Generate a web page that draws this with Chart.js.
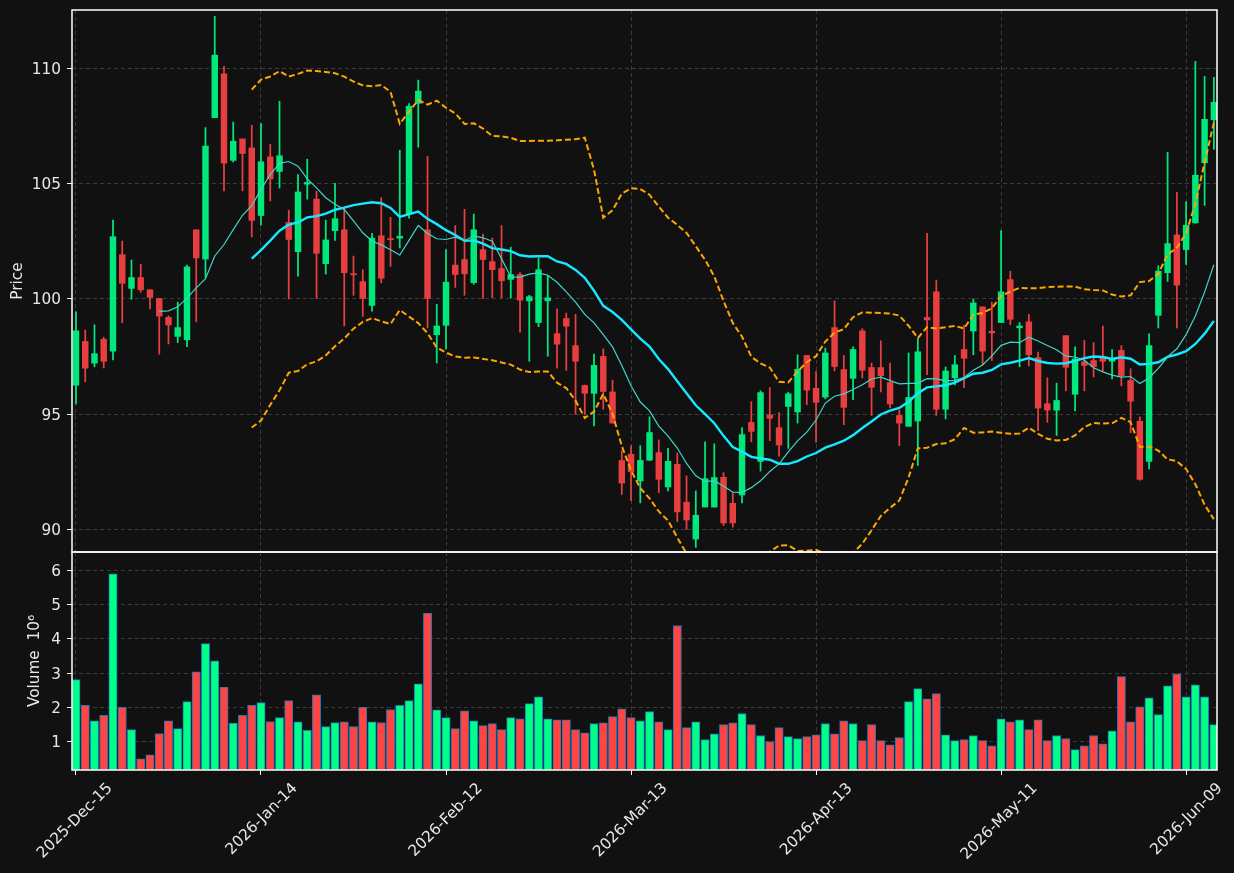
<!DOCTYPE html>
<html>
<head>
<meta charset="utf-8">
<script src="https://cdn.jsdelivr.net/npm/chart.js@4.4.1/dist/chart.umd.min.js"></script>
<style>
html,body{margin:0;padding:0;background:#111111;}
#wrap{position:relative;width:1234px;height:873px;background:#111111;}
canvas{position:absolute;left:0;top:0;}
</style>
</head>
<body>
<div id="wrap">
<canvas id="price" width="1234" height="873"></canvas>
<canvas id="vol" width="1234" height="873"></canvas>
</div>
<script>
// ---- data ----
const tickIndex  = [0, 20, 40, 60, 80, 100, 120];
const tickLabels = ['2025-Dec-15','2026-Jan-14','2026-Feb-12','2026-Mar-13','2026-Apr-13','2026-May-11','2026-Jun-09'];
const priceTicks  = [90, 95, 100, 105, 110];
const volumeTicks = [1, 2, 3, 4, 5, 6];

const openPrices = [
 96.26,98.16,97.22,98.25,97.74,101.92,100.46,100.93,100.40,100.02,
 99.20,98.38,98.23,103.00,101.73,107.86,109.76,106.01,106.94,106.55,
 103.62,106.16,105.53,103.32,102.05,104.98,104.33,101.53,102.96,103.00,
 101.10,100.75,99.72,102.74,102.62,102.64,103.68,108.48,103.00,98.45,
 98.86,101.47,101.71,100.71,102.14,101.62,101.32,100.85,101.06,99.92,
 98.98,99.92,98.50,99.15,97.98,96.25,95.91,97.51,95.97,93.00,
 93.27,92.11,93.01,93.34,91.85,92.83,91.19,89.59,90.98,90.98,
 92.27,91.14,91.50,94.65,92.96,94.97,94.42,95.34,95.10,97.55,
 96.13,95.75,98.76,96.94,96.56,98.62,97.03,97.03,96.38,94.95,
 94.48,94.71,99.20,100.31,95.22,96.58,97.81,98.61,99.66,98.60,
 98.98,100.84,98.75,99.01,97.46,95.46,95.18,98.41,95.87,97.27,
 97.33,97.48,97.30,97.77,96.47,94.70,92.96,99.29,101.14,102.78,
 102.14,103.30,105.91,107.77];
const highPrices = [
 99.44,98.65,98.88,98.34,103.42,102.51,101.69,101.51,100.40,100.02,
 99.27,99.86,101.47,103.00,107.43,112.26,110.09,107.67,106.94,107.53,
 107.60,106.70,108.57,103.85,105.39,106.06,104.67,103.42,105.02,103.98,
 101.86,101.27,102.85,104.39,103.54,106.45,108.47,109.49,106.19,99.77,
 102.14,103.18,103.89,103.68,102.81,102.64,103.18,102.25,101.14,100.16,
 101.77,100.99,99.57,99.39,99.33,96.27,97.61,97.84,96.48,93.42,
 93.64,93.64,94.89,93.89,93.53,93.32,92.33,91.68,93.81,93.72,
 92.47,91.61,94.42,95.55,96.02,96.16,95.07,95.96,97.58,97.55,
 96.85,97.87,99.92,97.55,97.93,98.71,97.22,98.19,97.22,95.18,
 97.66,98.29,102.85,100.82,97.05,97.55,98.86,100.00,99.66,99.86,
 102.97,101.20,98.98,99.33,97.70,96.58,96.35,98.41,97.93,98.20,
 98.11,98.83,97.81,97.98,96.98,94.89,98.49,101.44,106.36,104.63,
 104.22,110.30,109.65,109.61];
const lowPrices = [
 95.45,96.41,97.06,97.01,97.36,98.97,99.99,100.29,99.57,97.61,
 98.05,98.11,97.93,99.02,100.94,107.86,104.69,105.94,104.69,102.69,
 103.20,104.25,104.81,100.00,100.99,104.33,100.02,101.08,102.54,98.83,
 100.16,99.25,99.47,100.70,101.42,102.21,103.50,106.58,98.74,97.22,
 97.84,100.50,100.16,100.64,100.02,100.06,100.04,100.04,98.56,97.30,
 98.80,97.52,97.00,96.90,95.00,95.01,94.50,95.22,94.62,91.53,
 91.26,91.16,93.00,91.60,91.68,90.35,90.00,89.23,90.98,90.98,
 90.18,90.11,91.16,93.81,92.54,93.86,93.19,93.52,94.62,95.42,
 93.79,95.67,96.88,94.55,95.63,96.58,94.95,95.97,95.28,93.64,
 94.48,92.78,96.72,94.95,94.80,96.28,96.16,97.58,97.15,97.33,
 98.98,98.89,97.06,97.10,94.29,94.65,94.08,96.02,95.15,96.02,
 96.62,96.88,96.53,96.23,94.20,92.14,92.63,98.74,100.76,98.74,
 101.50,103.28,104.06,106.49];
const closePrices = [
 98.62,97.00,97.63,97.30,102.70,100.68,100.93,100.40,100.07,99.26,
 98.87,98.76,101.39,101.78,106.63,110.57,105.89,106.84,106.31,103.41,
 105.95,105.21,106.21,102.58,104.64,105.05,101.98,102.56,103.48,101.14,
 101.05,100.02,102.64,100.90,102.57,102.72,108.36,109.01,100.02,98.83,
 100.73,101.06,101.09,103.00,101.71,101.27,100.79,101.06,99.95,100.10,
 101.27,100.05,98.04,98.82,97.30,95.91,97.12,95.99,94.62,92.02,
 92.51,93.00,94.21,92.18,92.96,90.77,90.42,90.62,92.21,92.26,
 90.29,90.29,94.12,94.26,95.94,94.83,93.67,95.89,96.95,96.05,
 95.52,97.66,97.07,95.30,97.81,96.91,96.17,96.68,95.45,94.62,
 95.73,97.71,99.09,95.22,96.88,97.15,97.43,99.83,97.74,98.53,
 100.31,99.12,98.83,97.58,95.27,95.18,95.60,97.04,97.40,97.12,
 97.07,97.30,97.43,96.68,95.57,92.18,97.98,101.21,102.40,100.60,
 103.20,105.37,107.79,108.53];
// volume in millions
const volumes = [
 2.81,2.06,1.61,1.77,5.90,2.00,1.35,0.50,0.62,1.24,
 1.61,1.38,2.17,3.04,3.86,3.36,2.59,1.54,1.77,2.06,
 2.14,1.59,1.70,2.20,1.58,1.33,2.37,1.44,1.56,1.58,
 1.44,2.00,1.58,1.56,1.94,2.06,2.20,2.69,4.75,1.93,
 1.70,1.38,1.90,1.61,1.47,1.53,1.35,1.70,1.67,2.11,
 2.31,1.67,1.64,1.64,1.35,1.26,1.53,1.55,1.73,1.96,
 1.70,1.61,1.88,1.58,1.35,4.39,1.41,1.58,1.06,1.23,
 1.50,1.55,1.82,1.50,1.18,1.00,1.41,1.15,1.09,1.15,
 1.20,1.53,1.23,1.61,1.53,1.03,1.50,1.03,0.91,1.12,
 2.17,2.55,2.25,2.40,1.20,1.03,1.06,1.18,1.03,0.88,
 1.67,1.58,1.64,1.35,1.64,1.03,1.18,1.09,0.77,0.88,
 1.18,0.94,1.32,2.90,1.58,2.02,2.28,1.79,2.63,2.98,
 2.31,2.66,2.31,1.50];

// ---- indicators derived from the close series ----
function rollingMean(n){
  return closePrices.map((_, i) => {
    if (i < n - 1) return null;
    const w = closePrices.slice(i - n + 1, i + 1);
    return w.reduce((a, b) => a + b, 0) / n;
  });
}
function rollingStd(n){
  return closePrices.map((_, i) => {
    if (i < n - 1) return null;
    const w = closePrices.slice(i - n + 1, i + 1);
    const m = w.reduce((a, b) => a + b, 0) / n;
    return Math.sqrt(w.reduce((a, b) => a + (b - m) * (b - m), 0) / n);
  });
}
const ma10 = rollingMean(10);
const ma20 = rollingMean(20);
const sd20 = rollingStd(20);
const bbUpper = ma20.map((m, i) => m === null ? null : m + 2 * sd20[i]);
const bbLower = ma20.map((m, i) => m === null ? null : m - 2 * sd20[i]);
const toPts = arr => arr.map((v, i) => ({x: i, y: v})).filter(p => p.y !== null);

// ---- styles ----
const UP_C = '#02e77c', DN_C = '#e73f3f';
const UP_V = '#00ff88', DN_V = '#ff4444';
const GRID = '#3a3a3a';
const TXT = '#e8e8e8';
const FONT = {family: "'DejaVu Sans', 'Liberation Sans', sans-serif", size: 15.3};
const X_MIN = -0.43, X_MAX = 123.34;

const isUp = closePrices.map((c, i) => c >= openPrices[i]);
const candleColors = isUp.map(u => u ? UP_C : DN_C);
const volColors = isUp.map(u => u ? UP_V : DN_V);

const framePlugin = {
  id: 'frame',
  afterDraw(c) {
    const {ctx, chartArea: a} = c;
    ctx.save();
    ctx.strokeStyle = '#ffffff';
    ctx.lineWidth = 1.5;
    ctx.strokeRect(a.left, a.top, a.right - a.left, a.bottom - a.top);
    ctx.restore();
  }
};

function xScale(showLabels) {
  return {
    type: 'linear', min: X_MIN, max: X_MAX, offset: false,
    afterBuildTicks(s) { s.ticks = tickIndex.map(v => ({value: v})); },
    afterFit(s) { s.height = showLabels ? 103 : 0; s.paddingLeft = 0; s.paddingRight = 0; },
    ticks: showLabels ? {
      display: true, color: TXT, font: FONT, autoSkip: false,
      maxRotation: 45, minRotation: 45, labelOffset: 34, padding: 4.5,
      callback: v => { const k = tickIndex.indexOf(v); return k >= 0 ? tickLabels[k] : ''; }
    } : {display: false},
    grid: {color: GRID, lineWidth: 1, offset: false, drawTicks: showLabels,
           tickColor: '#ffffff', tickLength: 5, tickWidth: 1},
    border: {display: false, dash: [4, 3]}
  };
}
function yScale(min, max, ticksArr, title, titlePad) {
  return {
    min: min, max: max,
    afterBuildTicks(s) { s.ticks = ticksArr.map(v => ({value: v})); },
    afterFit(s) { s.width = 72; s.paddingTop = 0; s.paddingBottom = 0; },
    ticks: {color: TXT, font: FONT, padding: 6, labelOffset: 1.5},
    grid: {color: GRID, lineWidth: 1, tickColor: '#ffffff', tickLength: 5, tickWidth: 1},
    border: {display: false, dash: [4, 3]},
    title: {display: true, text: title, color: TXT, font: FONT, padding: {top: titlePad, bottom: 0}}
  };
}

// ---- price panel ----
new Chart(document.getElementById('price'), {
  type: 'bar',
  data: {
    datasets: [
      {type: 'line', label: 'MA10', data: toPts(ma10), borderColor: '#3fd6c8', borderWidth: 1.2,
       pointRadius: 0, tension: 0, order: 0},
      {type: 'line', label: 'MA20', data: toPts(ma20), borderColor: '#16e8ff', borderWidth: 2.4,
       pointRadius: 0, tension: 0, order: 0},
      {type: 'line', label: 'BB upper', data: toPts(bbUpper), borderColor: '#ffa500', borderWidth: 2,
       borderDash: [6, 3], pointRadius: 0, tension: 0, order: 0},
      {type: 'line', label: 'BB lower', data: toPts(bbLower), borderColor: '#ffa500', borderWidth: 2,
       borderDash: [6, 3], pointRadius: 0, tension: 0, order: 0},
      {type: 'bar', label: 'Body', data: openPrices.map((o, i) => ({x: i, y: [o, closePrices[i]]})),
       backgroundColor: candleColors, barThickness: 5.8, grouped: false, minBarLength: 1, order: 1},
      {type: 'bar', label: 'Wick', data: lowPrices.map((l, i) => ({x: i, y: [l, highPrices[i]]})),
       backgroundColor: candleColors, barThickness: 1.1, grouped: false, order: 2}
    ]
  },
  options: {
    responsive: false, animation: false,
    layout: {padding: {left: 0, top: 10, right: 17, bottom: 321}},
    plugins: {legend: {display: false}, tooltip: {enabled: false}},
    scales: {
      x: xScale(false),
      y: yScale(89.03, 112.53, priceTicks, 'Price', 9.3)
    }
  },
  plugins: [framePlugin]
});

// ---- volume panel ----
new Chart(document.getElementById('vol'), {
  type: 'bar',
  data: {
    datasets: [
      {label: 'Volume', data: volumes.map((v, i) => ({x: i, y: v})),
       backgroundColor: volColors, borderColor: '#1f77b4', borderWidth: 1, borderSkipped: false,
       barThickness: 8.3, grouped: false}
    ]
  },
  options: {
    responsive: false, animation: false,
    layout: {padding: {left: 0, top: 552, right: 17, bottom: 0}},
    plugins: {legend: {display: false}, tooltip: {enabled: false}},
    scales: {
      x: xScale(true),
      y: yScale(0.174, 6.534, volumeTicks, 'Volume  10\u2076', 25.8)
    }
  },
  plugins: [framePlugin]
});
</script>
</body>
</html>
